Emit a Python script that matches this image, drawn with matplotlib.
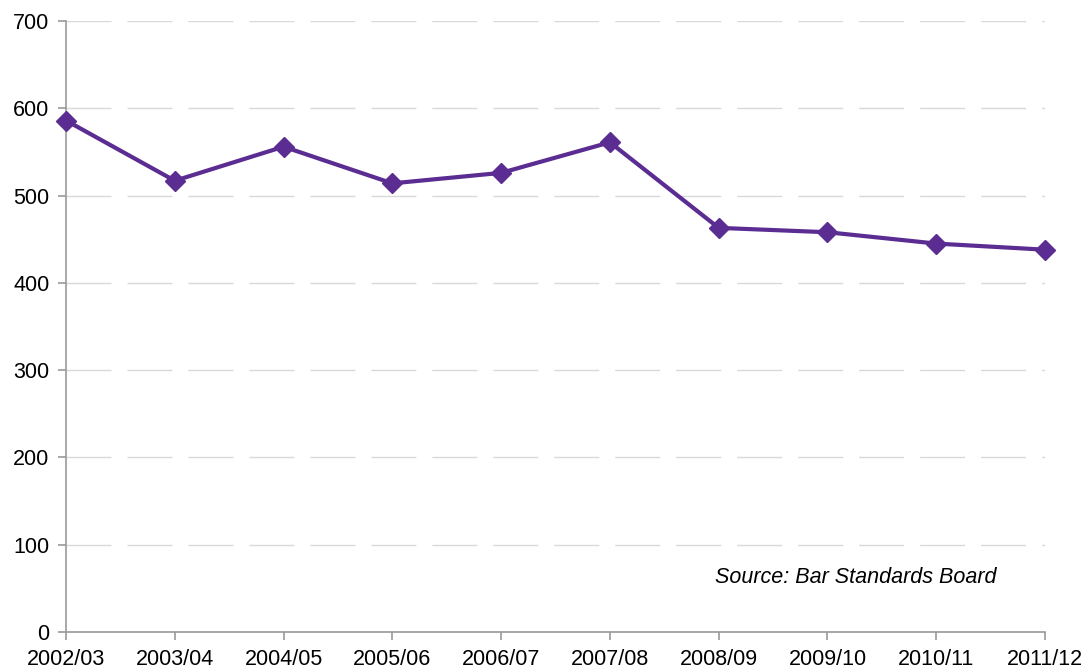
import matplotlib
matplotlib.use("Agg")
import matplotlib.pyplot as plt

categories = ["2002/03", "2003/04", "2004/05", "2005/06", "2006/07",
              "2007/08", "2008/09", "2009/10", "2010/11", "2011/12"]
values = [586, 517, 556, 514, 526, 561, 463, 458, 445, 438]
yticks = [0, 100, 200, 300, 400, 500, 600, 700]
source_text = "Source: Bar Standards Board"

plt.rcParams['font.family'] = ['Liberation Sans', 'DejaVu Sans']

W, H = 1084, 672
fig = plt.figure(figsize=(W / 100, H / 100), dpi=100)
ax = fig.add_axes([66 / W, 1 - 632 / H, (1045 - 66) / W, (632 - 21) / H])

x = list(range(len(categories)))
color = "#5b2c92"
ax.plot(x, values, color=color, lw=3, marker="D", markersize=10,
        clip_on=False, zorder=3)

ax.set_xlim(0, len(categories) - 1)
ax.set_ylim(0, 700)
ax.set_yticks(yticks)
ax.set_xticks(x)
ax.set_xticklabels(categories)

for y in yticks[1:]:
    ax.axhline(y, color="#d9d9d9", lw=1, dashes=(32.4, 11.5), zorder=1)

for s in ["top", "right"]:
    ax.spines[s].set_visible(False)
for s in ["left", "bottom"]:
    ax.spines[s].set_color("#999999")
    ax.spines[s].set_linewidth(1.2)

ax.tick_params(axis="both", colors="#999999", labelcolor="black",
               labelsize=15.5, length=6, width=1.2, direction="out")
ax.tick_params(axis="x", pad=6)
ax.tick_params(axis="y", pad=6)

ax.text(5.97, 63, source_text, style="italic", fontsize=15.5,
        ha="left", va="center", color="black")

fig.savefig("out.png", dpi=100)
